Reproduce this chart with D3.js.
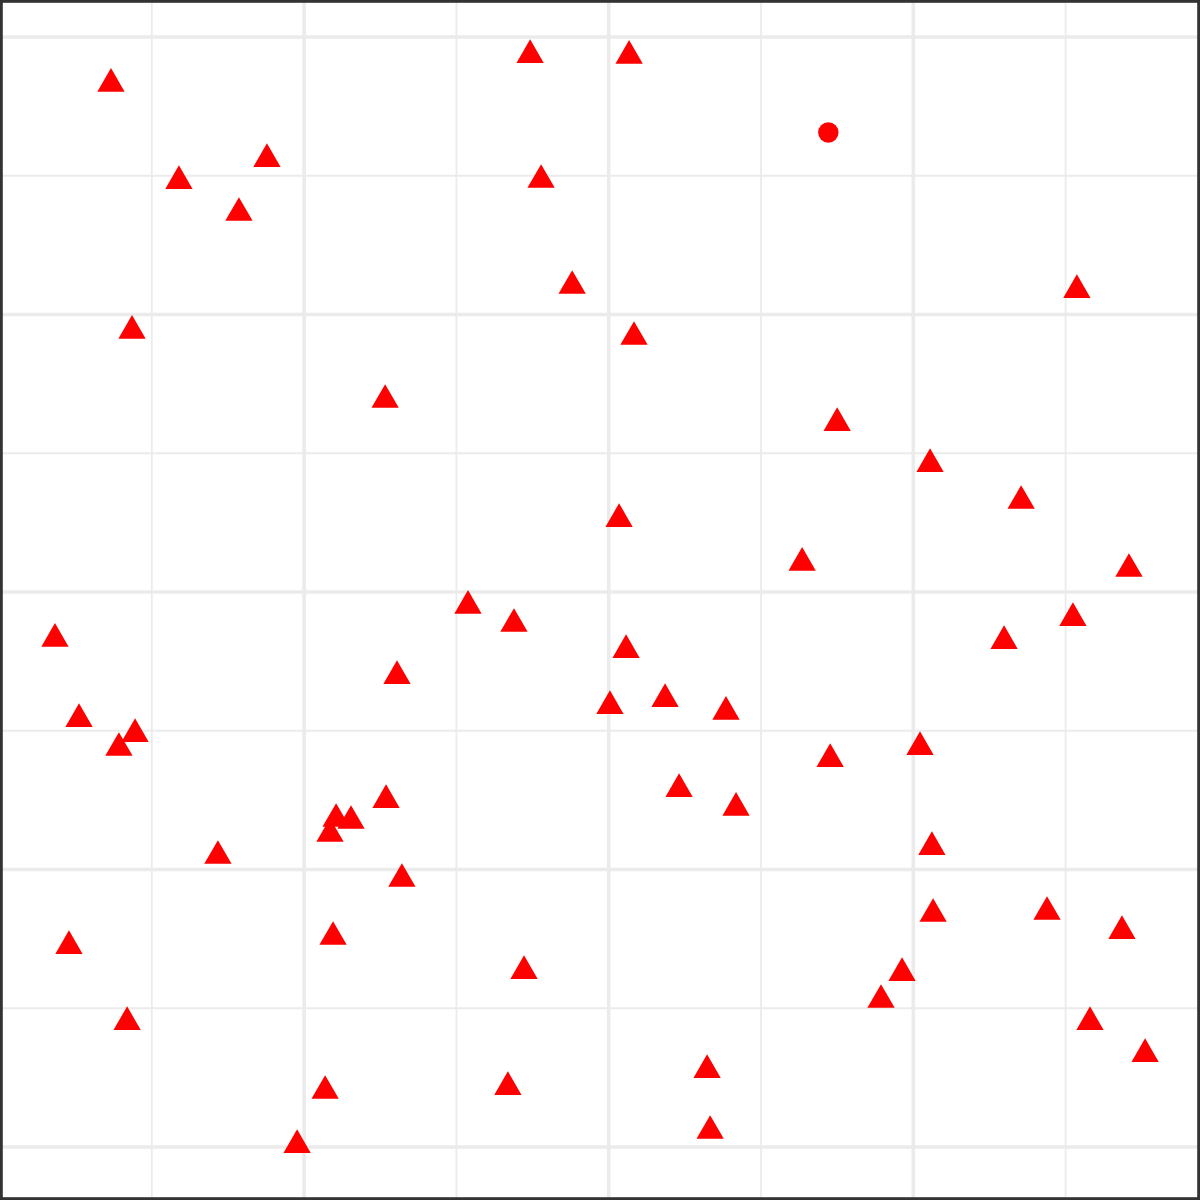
<!DOCTYPE html>
<html>
<head>
<meta charset="utf-8">
<script src="https://cdn.jsdelivr.net/npm/d3@7"></script>
<style>
  html, body { margin: 0; padding: 0; background: #ffffff; }
  svg { display: block; }
</style>
</head>
<body>
<div id="chart"></div>
<script>
// ---- data ----
const triX = [0.366, 0.589, 0.878, 0.786, 0.435, 1.266, 1.742, 2.067, 1.778, 1.880,
              2.083, 2.034, 3.537, 2.750, 3.055, 3.354, 3.708, 2.635, 0.182, 0.261,
              0.445, 0.392, 0.717, 1.305, 1.269, 1.105, 1.154, 1.085, 1.321, 1.095,
              0.228, 0.419, 1.069, 0.977, 1.538, 1.689, 2.057, 2.004, 2.185, 2.385,
              2.231, 2.418, 1.722, 1.669, 2.323, 2.333, 3.524, 3.298, 2.727, 3.022,
              3.061, 3.065, 3.439, 3.685, 2.963, 2.894, 3.580, 3.761];
const triY = [3.831, 3.481, 3.560, 3.366, 2.941, 2.692, 3.935, 3.932, 3.485, 3.103,
              2.919, 2.263, 3.088, 2.609, 2.461, 2.328, 2.083, 2.105, 1.831, 1.542,
              1.488, 1.438, 1.049, 1.697, 1.250, 1.182, 1.175, 1.128, 0.966, 0.757,
              0.724, 0.450, 0.202, 0.007, 1.950, 1.885, 1.791, 1.589, 1.614, 1.568,
              1.290, 1.222, 0.634, 0.216, 0.277, 0.058, 1.906, 1.823, 1.398, 1.441,
              1.081, 0.840, 0.847, 0.778, 0.627, 0.530, 0.450, 0.335];
const circX = [2.721];
const circY = [3.656];

const xMajor = [1, 2, 3];
const xMinor = [0.5, 1.5, 2.5, 3.5];
const yMajor = [0, 1, 2, 3, 4];
const yMinor = [0.5, 1.5, 2.5, 3.5];

// ---- drawing ----
const W = 1200, H = 1200;
const x = d3.scaleLinear().domain([0.0016, 3.9412]).range([0, W]);
const y = d3.scaleLinear().domain([-0.191, 4.1333]).range([H, 0]);

const svg = d3.select("#chart").append("svg")
  .attr("width", W).attr("height", H);

svg.append("rect").attr("width", W).attr("height", H).attr("fill", "#ffffff");

const grid = svg.append("g");
const gridColor = "#ebebeb";

grid.selectAll("line.xmin").data(xMinor).join("line")
  .attr("x1", d => x(d)).attr("x2", d => x(d))
  .attr("y1", 0).attr("y2", H)
  .attr("stroke", gridColor).attr("stroke-width", 1.8);
grid.selectAll("line.ymin").data(yMinor).join("line")
  .attr("y1", d => y(d)).attr("y2", d => y(d))
  .attr("x1", 0).attr("x2", W)
  .attr("stroke", gridColor).attr("stroke-width", 1.8);
grid.selectAll("line.xmaj").data(xMajor).join("line")
  .attr("x1", d => x(d)).attr("x2", d => x(d))
  .attr("y1", 0).attr("y2", H)
  .attr("stroke", gridColor).attr("stroke-width", 3.6);
grid.selectAll("line.ymaj").data(yMajor).join("line")
  .attr("y1", d => y(d)).attr("y2", d => y(d))
  .attr("x1", 0).attr("x2", W)
  .attr("stroke", gridColor).attr("stroke-width", 3.6);

const triData = triX.map((v, i) => ({ x: v, y: triY[i] }));
const circData = circX.map((v, i) => ({ x: v, y: circY[i] }));

const tri = d3.symbol().type(d3.symbolTriangle).size(323);

svg.append("g").selectAll("path").data(triData).join("path")
  .attr("d", tri)
  .attr("transform", d => `translate(${x(d.x)},${y(d.y)})`)
  .attr("fill", "#ff0000");

svg.append("g").selectAll("circle").data(circData).join("circle")
  .attr("cx", d => x(d.x)).attr("cy", d => y(d.y))
  .attr("r", 10.2)
  .attr("fill", "#ff0000");

// panel border
svg.append("rect")
  .attr("x", 1.4).attr("y", 1.4)
  .attr("width", W - 2.8).attr("height", H - 2.8)
  .attr("fill", "none")
  .attr("stroke", "#333333")
  .attr("stroke-width", 2.8);
</script>
</body>
</html>
